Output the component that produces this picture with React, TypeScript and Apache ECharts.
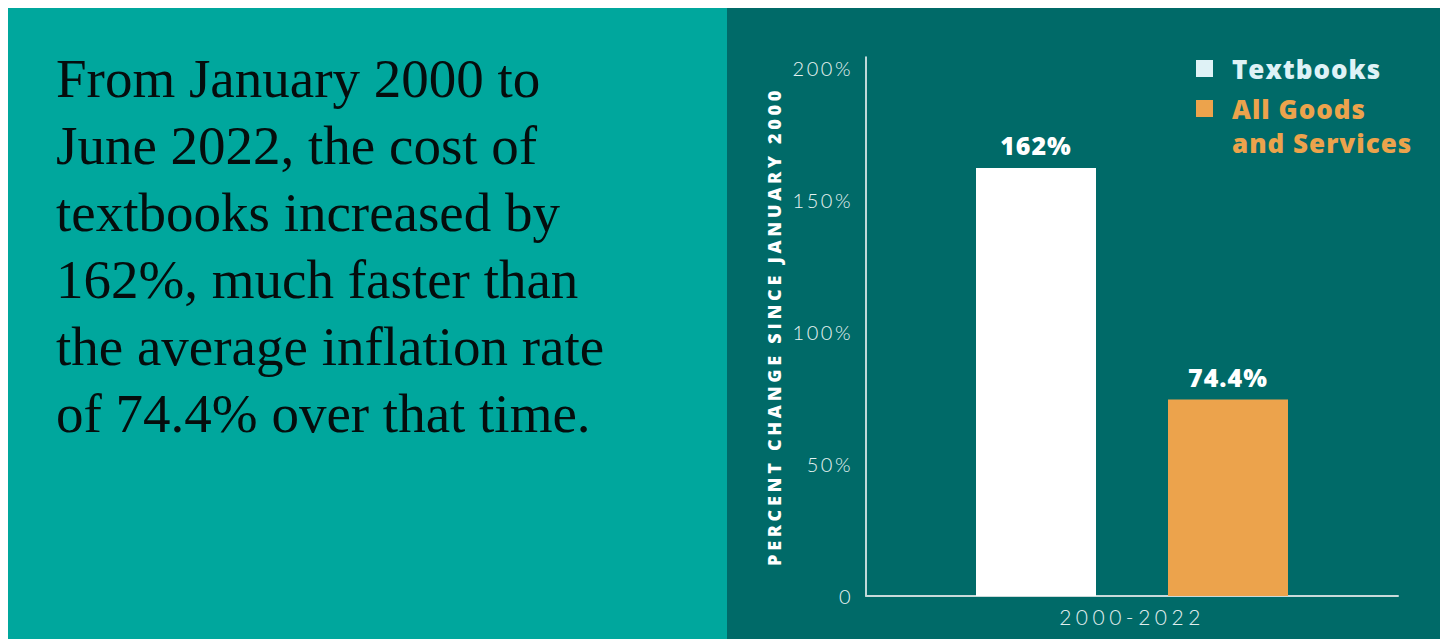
import React, { useEffect, useRef } from "react";
import * as echarts from "echarts";

const introLines = [
  "From January 2000 to",
  "June 2022, the cost of",
  "textbooks increased by",
  "162%, much faster than",
  "the average inflation rate",
  "of 74.4% over that time.",
];
const categories = ["2000-2022"];
const seriesNames = ["Textbooks", "All Goods and Services"];
const textbookValues = [162];
const allGoodsValues = [74.4];
const yAxisTitle = "PERCENT CHANGE SINCE JANUARY 2000";

const LEFT_BG = "#00a79d";
const RIGHT_BG = "#006a68";
const ORANGE = "#eca34c";
const LEGEND_LIGHT = "#dff2f6";

// letter spacing per font size (applied to the SVG text nodes after render)
const spacingBySize: Record<string, string> = {
  "18px": "3.7px",
  "21px": "4.5px",
  "20px": "2.5px",
  "25px": "1px",
  "26px": "1px",
};

export default function App() {
  const ref = useRef<HTMLDivElement>(null);
  useEffect(() => {
    document.body.style.overflow = "hidden";
    const el = ref.current!;
    const chart = echarts.init(el, null, { renderer: "svg" });
    const applySpacing = () => {
      el.querySelectorAll("text").forEach((t) => {
        const fs = getComputedStyle(t).fontSize;
        const sp = spacingBySize[fs];
        if (sp) t.setAttribute("letter-spacing", sp);
      });
    };
    chart.on("finished", applySpacing);
    const boldFont = "Open Sans, sans-serif";
    chart.setOption({
      animation: false,
      backgroundColor: RIGHT_BG,
      graphic: [
        {
          type: "rect",
          shape: { x: 0, y: 0, width: 719, height: 631 },
          style: { fill: LEFT_BG },
          silent: true,
        },
        {
          type: "text",
          x: 48,
          y: 37,
          style: {
            text: introLines.join("\n"),
            fontFamily: "Liberation Serif, serif",
            fontSize: 55,
            lineHeight: 67,
            fill: "#050d0d",
            verticalAlign: "top",
          },
        },
      ],
      legend: [
        {
          data: [
            {
              name: seriesNames[0],
              icon: "rect",
              itemStyle: { color: LEGEND_LIGHT },
              textStyle: { color: LEGEND_LIGHT },
            },
          ],
          left: 1188,
          top: 45.5,
          padding: 0,
          itemWidth: 17,
          itemHeight: 17,
          selectedMode: false,
          textStyle: {
            fontFamily: boldFont,
            fontWeight: 800,
            fontSize: 26,
            lineHeight: 30,
            padding: [0, 0, 0, 14],
          },
        },
        {
          data: [
            {
              name: seriesNames[1],
              icon: "rect",
              itemStyle: { color: ORANGE },
              textStyle: { color: ORANGE },
            },
          ],
          formatter: (n: string) =>
            n === "All Goods and Services" ? "\nAll Goods\nand Services" : n,
          left: 1188,
          top: 49.5,
          padding: 0,
          itemWidth: 17,
          itemHeight: 17,
          selectedMode: false,
          textStyle: {
            fontFamily: boldFont,
            fontWeight: 800,
            fontSize: 26,
            lineHeight: 34,
            padding: [0, 0, 0, 14],
          },
        },
      ],
      grid: { left: 858, right: 50, top: 49, bottom: 43 },
      xAxis: {
        type: "category",
        data: categories,
        axisLine: { show: true, lineStyle: { color: "#c9dada", width: 2 } },
        axisTick: { show: false },
        axisLabel: {
          color: "#e0eeee",
          fontFamily: "Lato, sans-serif",
          fontWeight: 300,
          fontSize: 21,
          margin: 10,
        },
      },
      yAxis: {
        type: "value",
        min: 0,
        max: 204,
        interval: 50,
        name: yAxisTitle,
        nameLocation: "middle",
        nameGap: 83,
        nameTextStyle: {
          color: "#ffffff",
          fontFamily: boldFont,
          fontWeight: 800,
          fontSize: 18,
        },
        axisLine: { show: true, lineStyle: { color: "#ffffff", width: 1.5 } },
        axisTick: { show: false },
        splitLine: { show: false },
        axisLabel: {
          color: "#e6f2f2",
          fontFamily: "Lato, sans-serif",
          fontWeight: 300,
          fontSize: 20,
          margin: 13,
          formatter: (v: number) => (v === 0 ? "0" : v % 50 === 0 ? v + "%" : ""),
        },
      },
      series: [
        {
          name: seriesNames[0],
          type: "bar",
          data: textbookValues,
          barWidth: 120,
          barGap: "60%",
          itemStyle: { color: "#ffffff" },
          label: {
            show: true,
            position: "top",
            distance: 10,
            color: "#ffffff",
            fontFamily: boldFont,
            fontWeight: 800,
            fontSize: 25,
            formatter: (p: any) => p.value + "%",
          },
        },
        {
          name: seriesNames[1],
          type: "bar",
          data: allGoodsValues,
          barWidth: 120,
          barGap: "60%",
          itemStyle: { color: ORANGE },
          label: {
            show: true,
            position: "top",
            distance: 10,
            color: "#ffffff",
            fontFamily: boldFont,
            fontWeight: 800,
            fontSize: 25,
            formatter: (p: any) => p.value + "%",
          },
        },
      ],
    });
    applySpacing();
    const timer = setTimeout(applySpacing, 50);
    return () => {
      clearTimeout(timer);
      chart.dispose();
    };
  }, []);
  return <div ref={ref} style={{ width: 1440, height: 631 }} />;
}
